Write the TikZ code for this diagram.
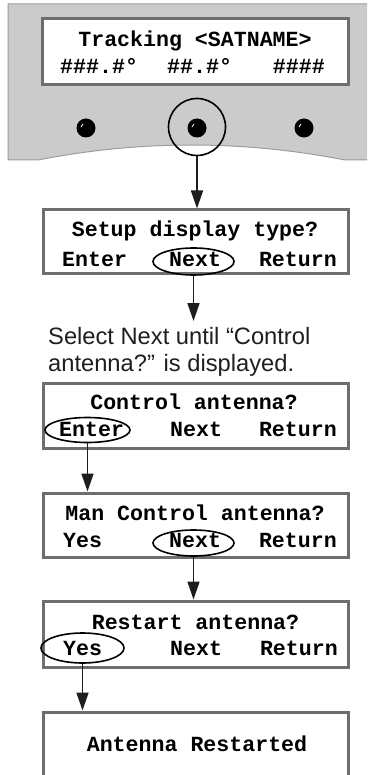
\documentclass[tikz,border=0pt]{standalone}
\usepackage{fontspec}
\setmainfont{Liberation Sans}
\newfontfamily\lcdfont{Liberation Mono}
\usetikzlibrary{arrows.meta,shapes.geometric}

\definecolor{panelgray}{HTML}{CBCBCB}
\definecolor{paneledge}{HTML}{9C9C9C}
\definecolor{lcdgray}{HTML}{6E6E6E}
\definecolor{inkblack}{HTML}{1E1E1E}

\begin{document}
\begin{tikzpicture}[x=1pt,y=-1pt,
  lcdbox/.style={draw=lcdgray, line width=3pt, fill=white, minimum width=305pt,
                 minimum height=65pt, inner sep=0pt},
  lcdtext/.style={inner sep=0pt, text=black,
                  font={\lcdfont\bfseries\fontsize{21.6}{24}\selectfont}},
  notetext/.style={inner sep=0pt, text=inkblack, anchor=base west,
                   font={\fontsize{23.7}{27}\selectfont}},
  selkey/.style={draw=black, line width=1.6pt, ellipse, inner sep=0pt},
  knob/.style={circle, fill=black, minimum size=19pt, inner sep=0pt},
  flow/.style={draw=inkblack, line width=1.7pt, -{Triangle[length=18pt,width=12pt]}},
]
\useasboundingbox (0,0) rectangle (367,775);
\clip (0,0) rectangle (367,775);

% front panel of the controller
\draw[draw=paneledge, line width=1pt, fill=panelgray]
  (8,4) -- (380,4) -- (380,160) -- (345,160)
  .. controls (242.7,140) and (140.3,140) .. (38,160) -- (8,160) -- cycle;

% display screens
\node[lcdbox, minimum width=306pt, minimum height=66pt] (d1) at (195,52) {};
\node[lcdbox, minimum height=63pt] (d2) at (195.5,241.5) {};
\node[lcdbox] (d3) at (195.5,415.5) {};
\node[lcdbox, minimum height=64pt] (d4) at (195.5,525) {};
\node[lcdbox, minimum height=66pt] (d5) at (196,634) {};
\node[lcdbox, minimum height=90pt] (d6) at (196,757) {};

% panel buttons
\node[knob] (k1) at (86,128) {};
\node[knob] (k2) at (197,128) {};
\node[knob] (k3) at (304,128) {};
\foreach \k in {k1,k2,k3}
  \draw[white, line width=0.8pt, line cap=round]
    ([xshift=-5pt,yshift=1pt]\k.center) -- ([xshift=-3pt,yshift=4pt]\k.center);
\node[circle, draw=black, line width=1.6pt, minimum size=57pt, inner sep=0pt]
  (ring) at (197,127) {};

% screen 1
\node[lcdtext, anchor=base] (t1a) at (195,47) {Tracking <SATNAME>};
\node[lcdtext, anchor=base west] (t1b) at (60,74) {\#\#\#.\#°};
\node[lcdtext, anchor=base west] (t1c) at (167,74) {\#\#.\#°};
\node[lcdtext, anchor=base east] (t1d) at (325,74) {\#\#\#\#};

% screen 2
\node[lcdtext, anchor=base] (t2a) at (195,237) {Setup display type?};
\node[lcdtext, anchor=base west] (t2b) at (62,266) {Enter};
\node[lcdtext, anchor=base west] (t2c) at (169,266) {Next};
\node[lcdtext, anchor=base east] (t2d) at (337,266) {Return};

% screen 3
\node[lcdtext, anchor=base] (t3a) at (194,409) {Control antenna?};
\node[lcdtext, anchor=base west] (t3b) at (59,436) {Enter};
\node[lcdtext, anchor=base west] (t3c) at (170,436) {Next};
\node[lcdtext, anchor=base east] (t3d) at (337,436) {Return};

% screen 4
\node[lcdtext, anchor=base] (t4a) at (195,520) {Man Control antenna?};
\node[lcdtext, anchor=base west] (t4b) at (63,547) {Yes};
\node[lcdtext, anchor=base west] (t4c) at (169,547) {Next};
\node[lcdtext, anchor=base east] (t4d) at (337,547) {Return};

% screen 5
\node[lcdtext, anchor=base] (t5a) at (195.5,629) {Restart antenna?};
\node[lcdtext, anchor=base west] (t5b) at (63,655) {Yes};
\node[lcdtext, anchor=base west] (t5c) at (170,655) {Next};
\node[lcdtext, anchor=base east] (t5d) at (338,655) {Return};

% screen 6
\node[lcdtext, anchor=base] (t6a) at (197,751) {Antenna Restarted};

% instruction between screens 2 and 3
\node[notetext] (n1) at (48,344) {Select Next until “Control};
\node[notetext] (n2) at (48,371) {antenna?” is displayed.};
\coordinate (tipA) at (193.5,321);

% selected soft keys
\node[selkey, minimum width=81pt, minimum height=27pt] (e2) at (193.5,261.5) {};
\node[selkey, minimum width=85pt, minimum height=25pt] (e3) at (87.5,430) {};
\node[selkey, minimum width=81pt, minimum height=26pt] (e4) at (193.5,543) {};
\node[selkey, minimum width=83pt, minimum height=30pt] (e5) at (82.5,648) {};

% flow arrows
\draw[flow] (ring.south) -- (ring.south |- d2.north);
\draw[flow] (e2.south) -- (e2.south |- tipA);
\draw[flow] (e3.south) -- (e3.south |- d4.north);
\draw[flow] (e4.south) -- (e4.south |- d5.north);
\draw[flow] (e5.south) -- (e5.south |- d6.north);
\end{tikzpicture}
\end{document}
